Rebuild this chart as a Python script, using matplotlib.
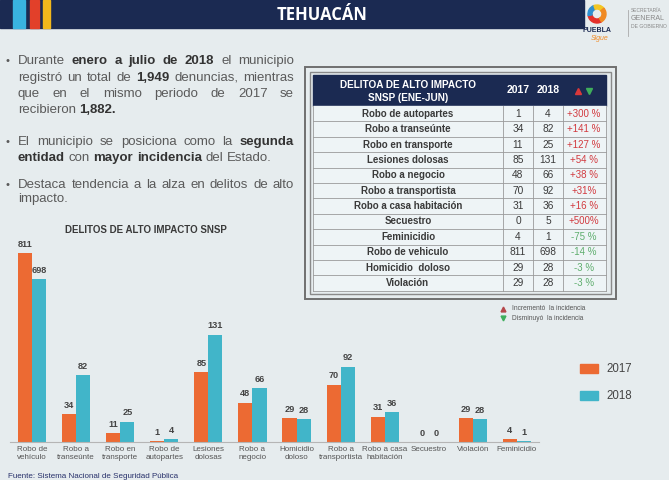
import numpy as np
import matplotlib
matplotlib.use("Agg")
import matplotlib.pyplot as plt
from matplotlib.patches import Rectangle, Wedge, Patch

plt.rcParams['font.family'] = ['Liberation Sans', 'DejaVu Sans']

# datos
categorias = ["Robo de\nvehículo", "Robo a\ntranseúnte", "Robo en\ntransporte", "Robo de\nautopartes",
              "Lesiones\ndolosas", "Robo a\nnegocio", "Homicidio\ndoloso", "Robo a\ntransportista",
              "Robo a casa\nhabitación", "Secuestro", "Violación", "Feminicidio"]
v2017 = [811, 34, 11, 1, 85, 48, 29, 70, 31, 0, 29, 4]
v2018 = [698, 82, 25, 4, 131, 66, 28, 92, 36, 0, 28, 1]

tabla_delitos = ["Robo de autopartes", "Robo a transeúnte", "Robo en transporte", "Lesiones dolosas",
                 "Robo a negocio", "Robo a transportista", "Robo a casa habitación", "Secuestro",
                 "Feminicidio", "Robo de vehiculo", "Homicidio  doloso", "Violación"]
tabla_2017 = [1, 34, 11, 85, 48, 70, 31, 0, 4, 811, 29, 29]
tabla_2018 = [4, 82, 25, 131, 66, 92, 36, 5, 1, 698, 28, 28]
tabla_var = ["+300 %", "+141 %", "+127 %", "+54 %", "+38 %", "+31%", "+16 %", "+500%",
             "-75 %", "-14 %", "-3 %", "-3 %"]

NARANJA = '#ec6a33'
TURQUESA = '#41b5c9'
NAVY = '#1b2a52'
FONDO = '#e6ecee'

fig = plt.figure(figsize=(6.69, 4.80), dpi=100)
fig.patch.set_facecolor(FONDO)

# capa de fondo en pixeles
bg = fig.add_axes([0, 0, 1, 1])
bg.set_xlim(0, 669)
bg.set_ylim(480, 0)
bg.axis('off')
bg.set_zorder(0)

# banner superior
bg.add_patch(Rectangle((0, 0), 584, 28, color=NAVY))
bg.add_patch(Rectangle((13, 0), 12, 28, color='#39b3e0'))
bg.add_patch(Rectangle((30, 0), 9, 28, color='#e2402a'))
bg.add_patch(Rectangle((43, 0), 7, 28, color='#f2b81c'))
bg.text(322, 15, "TEHUACÁN", color='white', fontsize=12, fontweight='bold',
        ha='center', va='center', family=['Open Sans', 'DejaVu Sans'])

# logo
for a1, a2, c in [(60, 170, '#e4302b'), (170, 250, '#2f8fd0'), (250, 320, '#f3c623'), (320, 420, '#f08a24')]:
    bg.add_patch(Wedge((597, 14), 9, a1, a2, width=4, color=c))
bg.text(597, 30, "PUEBLA", color=NAVY, fontsize=5, fontweight='bold', ha='center', va='center')
bg.text(600, 38, "Sigue", color='#f08a24', fontsize=5, style='italic', ha='center', va='center')
bg.plot([628, 628], [10, 36], color='#aaaaaa', lw=0.6)
bg.text(631, 11, "SECRETARÍA", color='#888', fontsize=3.5, va='center')
bg.text(631, 19, "GENERAL", color='#888', fontsize=5, va='center')
bg.text(631, 27, "DE GOBIERNO", color='#888', fontsize=3.7, va='center')

fig.canvas.draw()
renderer = fig.canvas.get_renderer()


def ancho(txt, bold, size):
    t = bg.text(0, 0, txt, fontsize=size, fontweight='bold' if bold else 'normal')
    w = t.get_window_extent(renderer).width
    t.remove()
    return w


def linea(runs, x0, y, x1=None, size=9.5):
    palabras = []
    for txt, bold in runs:
        for p in txt.split():
            palabras.append((p, bold))
    anchos = [ancho(p, b, size) for p, b in palabras]
    esp = ancho("x x", False, size) - ancho("xx", False, size)
    if x1 is not None and len(palabras) > 1:
        esp = (x1 - x0 - sum(anchos)) / (len(palabras) - 1)
    x = x0
    for (p, b), w in zip(palabras, anchos):
        bg.text(x, y, p, fontsize=size, fontweight='bold' if b else 'normal',
                color='#333333' if b else '#5a5a5a', ha='left', va='center')
        x += w + esp


X0, X1 = 18, 294
for yb in [61, 142, 185]:
    bg.text(5, yb, "•", fontsize=8, color='#5a5a5a', va='center')
linea([("Durante", False), ("enero a julio de 2018", True), ("el municipio", False)], X0, 61, X1)
linea([("registró un total de", False), ("1,949", True), ("denuncias, mientras", False)], X0, 78, X1)
linea([("que en el mismo periodo de 2017 se", False)], X0, 94, X1)
linea([("recibieron", False), ("1,882.", True)], X0, 110)
linea([("El municipio se posiciona como la", False), ("segunda", True)], X0, 142, X1)
linea([("entidad", True), ("con", False), ("mayor incidencia", True), ("del Estado.", False)], X0, 158)
linea([("Destaca tendencia a la alza en delitos de alto", False)], X0, 185, X1)
linea([("impacto.", False)], X0, 199)

# tabla
bg.add_patch(Rectangle((305, 67), 311, 232, fill=False, ec='#6f6f6f', lw=1.4))
bg.add_patch(Rectangle((310, 72), 301, 222, fill=False, ec='#8a8a8a', lw=1.0))
bg.add_patch(Rectangle((313, 75), 293, 31, color=NAVY))
bg.text(408, 85, "DELITOA DE ALTO IMPACTO", color='white', fontsize=7.2, fontweight='bold', ha='center', va='center')
bg.text(408, 98, "SNSP (ENE-JUN)", color='white', fontsize=7.2, fontweight='bold', ha='center', va='center')
bg.text(518, 90, "2017", color='white', fontsize=7.5, fontweight='bold', ha='center', va='center')
bg.text(548, 90, "2018", color='white', fontsize=7.5, fontweight='bold', ha='center', va='center')
bg.plot([578], [91], marker='^', color='#d9383a', ms=4)
bg.plot([589], [91], marker='v', color='#3fae5c', ms=4)
fila_h = 15.4
y_top = 106
bg.add_patch(Rectangle((313, y_top), 293, fila_h * len(tabla_delitos), color='#eef4f6'))
for i, nombre in enumerate(tabla_delitos):
    yc = y_top + fila_h * (i + 0.5)
    bg.text(408, yc, nombre, fontsize=7, fontweight='bold', color='#3a3a3a', ha='center', va='center')
    bg.text(518, yc, str(tabla_2017[i]), fontsize=7.3, color='#3a3a3a', ha='center', va='center')
    bg.text(548, yc, str(tabla_2018[i]), fontsize=7.3, color='#3a3a3a', ha='center', va='center')
    col = '#d23a3f' if tabla_var[i].startswith('+') else '#5fae6e'
    bg.text(584, yc, tabla_var[i], fontsize=7, color=col, ha='center', va='center')
    bg.plot([313, 606], [y_top + fila_h * (i + 1)] * 2, color='#9a9a9a', lw=0.6)
y_bot = y_top + fila_h * len(tabla_delitos)
for xs in [503, 533, 563, 606, 313]:
    bg.plot([xs, xs], [y_top, y_bot], color='#9a9a9a', lw=0.6)

bg.plot([503], [309], marker='^', color='#b5474a', ms=3.5)
bg.plot([503], [318], marker='v', color='#3fae5c', ms=3.5)
bg.text(512, 309, "Incrementó  la incidencia", fontsize=4.8, color='#555', va='center')
bg.text(512, 318, "Disminuyó  la incidencia", fontsize=4.8, color='#555', va='center')

# grafica de barras
bg.text(65, 230, "DELITOS DE ALTO IMPACTO SNSP", fontsize=7, fontweight='bold', color='#3a3a3a', va='center')
bg.text(8, 476, "Fuente: Sistema Nacional de Seguridad Pública", fontsize=5.8, color='#27306a', va='center')

# escala comprimida para valores altos (como en la lamina)
k_in = [-1000, 0, 150, 650, 900, 5000]
k_out = [-1000, 0, 150, 185, 255, 1403]
fwd = lambda v: np.interp(v, k_in, k_out)
inv = lambda v: np.interp(v, k_out, k_in)

ax = fig.add_axes([10 / 669, 38 / 480, 529 / 669, 209 / 480])
ax.set_zorder(1)
ax.patch.set_alpha(0)
ax.set_yscale('function', functions=(fwd, inv))
x = np.arange(len(categorias))
w = 0.32
b1 = ax.bar(x - w / 2, v2017, w, color=NARANJA, label='2017')
b2 = ax.bar(x + w / 2, v2018, w, color=TURQUESA, label='2018')
for bars, vals in [(b1, v2017), (b2, v2018)]:
    for r, v in zip(bars, vals):
        ax.annotate(str(v), (r.get_x() + r.get_width() / 2, v), xytext=(0, 3), textcoords='offset points',
                    ha='center', va='bottom', fontsize=6.6, fontweight='bold', color='#444')
ax.set_xlim(-0.5, len(categorias) - 0.5)
ax.set_ylim(0, 900)
ax.set_xticks(x)
ax.set_xticklabels(categorias, fontsize=5.8, color='#555', linespacing=1.1)
ax.tick_params(axis='x', length=0, pad=3)
ax.set_yticks([])
ax.minorticks_off()
for s in ['top', 'right', 'left']:
    ax.spines[s].set_visible(False)
ax.spines['bottom'].set_color('#b5b5b5')
ax.spines['bottom'].set_linewidth(0.8)

fig.legend(handles=[Patch(color=NARANJA, label='2017'), Patch(color=TURQUESA, label='2018')],
           loc='upper left', bbox_to_anchor=(570 / 669, 1 - 353 / 480), frameon=False, fontsize=8.3,
           handlelength=1.5, handleheight=0.9, labelspacing=1.3, labelcolor='#444')

fig.savefig("out.png", dpi=100, facecolor=fig.get_facecolor())
